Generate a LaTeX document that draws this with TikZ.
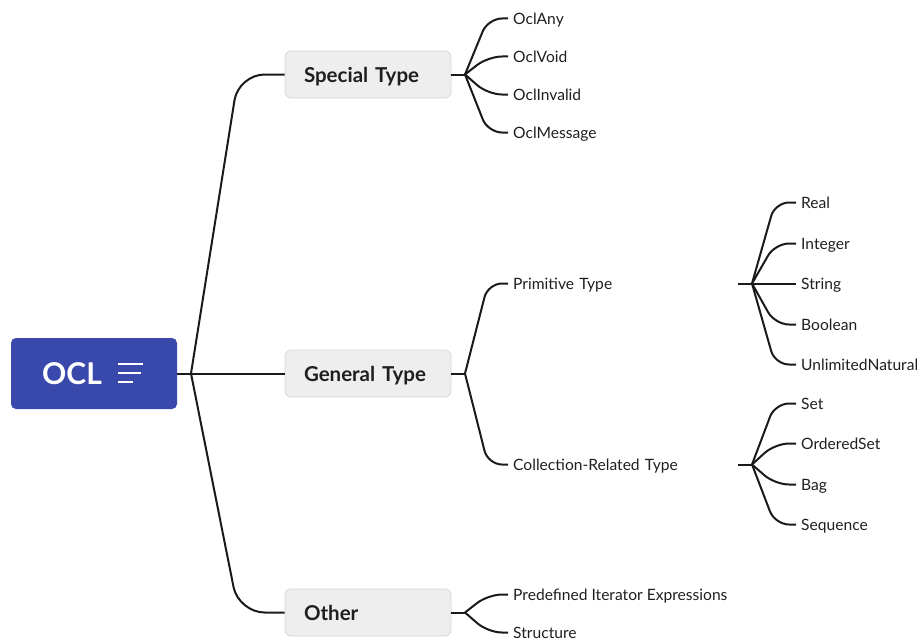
\documentclass[tikz,border=0pt]{standalone}
\usepackage{fontspec}
\setmainfont{Lato}
\usetikzlibrary{calc}
\definecolor{rootblue}{HTML}{3949AB}
\definecolor{topicfill}{HTML}{EEEEEE}
\definecolor{topicborder}{HTML}{D6D6D6}
\definecolor{linec}{HTML}{1A1A1A}
\definecolor{textc}{HTML}{1F1F1F}
\begin{document}
\begin{tikzpicture}[x=1pt,y=-1pt,
  edge/.style={line width=2pt, draw=linec, rounded corners=14pt},
  rootedge/.style={edge, rounded corners=26pt},
  topic/.style={draw=topicborder, fill=topicfill, rounded corners=6pt, line width=0.8pt,
    minimum width=166pt, minimum height=47pt, inner ysep=0pt, inner xsep=19pt,
    text width=128pt, align=left, text depth=0pt,
    font=\bfseries\fontsize{20.5}{22}\selectfont, text=textc},
  leaf/.style={anchor=west, inner xsep=5pt, inner ysep=2pt, text depth=0pt,
    font=\fontsize{15.6}{17}\selectfont, text=textc},
  wide/.style={leaf, text width=220pt, align=left},
]
\useasboundingbox (0,0) rectangle (917,642);

% central topic
\node[fill=rootblue, rounded corners=5pt, minimum width=166pt, minimum height=71pt, inner sep=0pt] (root) at (94,373.5) {};
\node[text=white, font=\bfseries\fontsize{30}{32}\selectfont, inner sep=0pt] (rootlabel) at (72,374) {OCL};
\draw[white, line width=2.2pt] (118,364) -- (143,364) (118,373) -- (141,373) (118,382) -- (133,382);

% main topics
\node[topic] (st) at (368,74.5) {Special Type};
\node[topic] (gt) at (368,373.5) {General Type};
\node[topic] (ot) at (368,612.5) {Other};

% branch points
\coordinate (rb) at (191,373.5);
\coordinate (sb) at (465,74.5);
\coordinate (gb) at (465,373.5);
\coordinate (ob) at (465,612.5);
\coordinate (pb) at (752,283.5);
\coordinate (cb) at (752,464.5);
\coordinate (lvtwo) at (488,0);
\coordinate (lvthree) at (775,0);

% second-level items
\node[leaf] (any) at (508,18.5) {OclAny};
\node[leaf] (void) at (508,56.5) {OclVoid};
\node[leaf] (inv) at (508,94.5) {OclInvalid};
\node[leaf] (msg) at (508,132.5) {OclMessage};
\node[wide] (prim) at (508,283.5) {Primitive Type};
\node[wide] (coll) at (508,464.5) {Collection-Related Type};
\node[leaf] (pie) at (508,594.5) {Predefined Iterator Expressions};
\node[leaf] (struct) at (508,632.5) {Structure};

% third-level items
\node[leaf] (real) at (796,202.5) {Real};
\node[leaf] (int) at (796,243.5) {Integer};
\node[leaf] (str) at (796,283.5) {String};
\node[leaf] (bool) at (796,324.5) {Boolean};
\node[leaf] (unl) at (796,364.5) {UnlimitedNatural};
\node[leaf] (set) at (796,403.5) {Set};
\node[leaf] (oset) at (796,443.5) {OrderedSet};
\node[leaf] (bag) at (796,484.5) {Bag};
\node[leaf] (seq) at (796,524.5) {Sequence};

% root connectors
\draw[edge] (root.east) -- (rb);
\draw[rootedge] (rb) -- ($(st.west)+(-46,0)$) -- (st.west);
\draw[edge] (rb) -- (gt.west);
\draw[rootedge] (rb) -- ($(ot.west)+(-46,0)$) -- (ot.west);

% topic stems
\draw[edge] (st.east) -- (sb);
\draw[edge] (gt.east) -- (gb);
\draw[edge] (ot.east) -- (ob);
\draw[edge] (prim.east) -- (pb);
\draw[edge] (coll.east) -- (cb);

% second-level connectors
\foreach \n in {any,void,inv,msg}
  \draw[edge] (sb) -- (\n.west -| lvtwo) -- (\n.west);
\foreach \n in {prim,coll}
  \draw[edge] (gb) -- (\n.west -| lvtwo) -- (\n.west);
\foreach \n in {pie,struct}
  \draw[edge] (ob) -- (\n.west -| lvtwo) -- (\n.west);

% third-level connectors
\foreach \n in {real,int,bool,unl}
  \draw[edge] (pb) -- (\n.west -| lvthree) -- (\n.west);
\draw[edge] (pb) -- (str.west);
\foreach \n in {set,oset,bag,seq}
  \draw[edge] (cb) -- (\n.west -| lvthree) -- (\n.west);
\end{tikzpicture}
\end{document}
